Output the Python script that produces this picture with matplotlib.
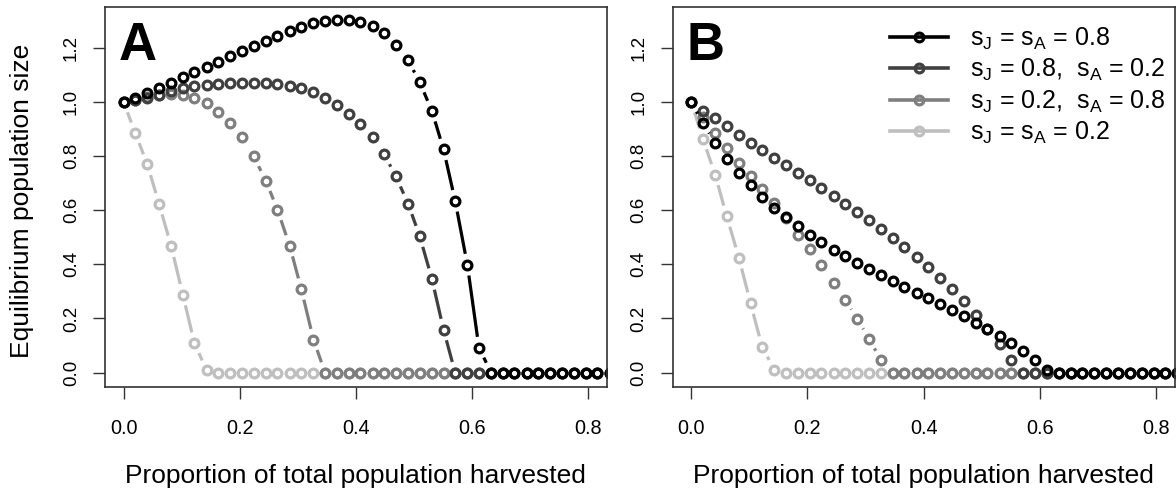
import numpy as np
import matplotlib
matplotlib.use("Agg")
import matplotlib.pyplot as plt
from matplotlib.lines import Line2D
from matplotlib.collections import LineCollection

plt.rcParams['font.family'] = ['Liberation Sans', 'DejaVu Sans']
plt.rcParams['mathtext.fontset'] = 'custom'
plt.rcParams['mathtext.rm'] = 'Liberation Sans'
plt.rcParams['mathtext.it'] = 'Liberation Sans'

# ---------------- data ----------------
harvest = [0.000, 0.020, 0.041, 0.061, 0.082, 0.102, 0.122, 0.143, 0.163, 0.184,
           0.204, 0.224, 0.245, 0.265, 0.286, 0.306, 0.327, 0.347, 0.367, 0.388,
           0.408, 0.429, 0.449, 0.469, 0.490, 0.510, 0.531, 0.551, 0.571, 0.592,
           0.612, 0.633, 0.653, 0.673, 0.694, 0.714, 0.735, 0.755, 0.776, 0.796,
           0.816, 0.837]

# Panel A
A_sJ08_sA08 = [1.000, 1.013, 1.033, 1.051, 1.070, 1.091, 1.111, 1.129, 1.149, 1.169,
               1.189, 1.208, 1.227, 1.245, 1.262, 1.277, 1.290, 1.299, 1.304, 1.304,
               1.297, 1.282, 1.255, 1.212, 1.154, 1.073, 0.967, 0.825, 0.635, 0.399,
               0.092] + [0.0] * 11
A_sJ08_sA02 = [1.000, 1.008, 1.015, 1.027, 1.042, 1.052, 1.058, 1.064, 1.068, 1.070,
               1.071, 1.071, 1.070, 1.067, 1.060, 1.050, 1.035, 1.015, 0.990, 0.957,
               0.919, 0.870, 0.806, 0.725, 0.624, 0.504, 0.346, 0.159] + [0.0] * 14
A_sJ02_sA08 = [1.000, 1.008, 1.017, 1.024, 1.028, 1.025, 1.015, 0.995, 0.964, 0.922,
               0.870, 0.799, 0.709, 0.602, 0.469, 0.309, 0.122] + [0.0] * 25
A_sJ02_sA02 = [1.000, 0.886, 0.769, 0.624, 0.467, 0.288, 0.109, 0.008] + [0.0] * 34

# Panel B
B_sJ08_sA08 = [1.000, 0.921, 0.849, 0.788, 0.739, 0.692, 0.650, 0.608, 0.574, 0.541,
               0.510, 0.481, 0.454, 0.430, 0.406, 0.383, 0.360, 0.338, 0.317, 0.296,
               0.276, 0.255, 0.232, 0.209, 0.185, 0.161, 0.137, 0.110, 0.081, 0.046,
               0.011] + [0.0] * 11
B_sJ08_sA02 = [1.000, 0.967, 0.941, 0.910, 0.879, 0.849, 0.821, 0.793, 0.766, 0.739,
               0.710, 0.681, 0.652, 0.622, 0.594, 0.563, 0.531, 0.498, 0.463, 0.426,
               0.389, 0.350, 0.309, 0.263, 0.214, 0.160, 0.107, 0.045] + [0.0] * 14
B_sJ02_sA08 = [1.000, 0.943, 0.886, 0.830, 0.775, 0.727, 0.677, 0.627, 0.571, 0.510,
               0.457, 0.399, 0.331, 0.270, 0.199, 0.125, 0.045] + [0.0] * 25
B_sJ02_sA02 = [1.000, 0.864, 0.732, 0.578, 0.424, 0.257, 0.095, 0.011] + [0.0] * 34

series_labels = ["s$_\\mathregular{J}$ = s$_\\mathregular{A}$ = 0.8",
                 "s$_\\mathregular{J}$ = 0.8,  s$_\\mathregular{A}$ = 0.2",
                 "s$_\\mathregular{J}$ = 0.2,  s$_\\mathregular{A}$ = 0.8",
                 "s$_\\mathregular{J}$ = s$_\\mathregular{A}$ = 0.2"]
series_colors = ["#000000", "#404040", "#7f7f7f", "#bfbfbf"]

x_ticks = [0.0, 0.2, 0.4, 0.6, 0.8]
x_ticklabels = ["0.0", "0.2", "0.4", "0.6", "0.8"]
y_ticks = [0.0, 0.2, 0.4, 0.6, 0.8, 1.0, 1.2]
y_ticklabels = ["0.0", "0.2", "0.4", "0.6", "0.8", "1.0", "1.2"]

# ---------------- style ----------------
W, H = 1176, 490
fig = plt.figure(figsize=(W / 100, H / 100), dpi=100)

def frac_box(l, r, t, b):
    return [l / W, 1 - b / H, (r - l) / W, (b - t) / H]

axA = fig.add_axes(frac_box(105, 606.7, 6.7, 386.7))
axB = fig.add_axes(frac_box(672.7, 1174.5, 6.7, 386.7))

LW = 2.3
MS = 6.3
MEW = 2.3
GAP = 11.0  # px gap around points (R type="b")
AXCOL = "#333333"


def draw_type_b(ax, x, y, color):
    x = np.asarray(x, float)
    y = np.asarray(y, float)
    pts = ax.transData.transform(np.column_stack([x, y]))
    inv = ax.transData.inverted()
    segs = []
    for p, q in zip(pts[:-1], pts[1:]):
        d = q - p
        L = np.hypot(d[0], d[1])
        if L > 2 * GAP + 0.5:
            u = d / L
            segs.append(inv.transform(np.array([p + u * GAP, q - u * GAP])))
    ax.add_collection(LineCollection(segs, colors=color, linewidths=LW,
                                     capstyle='butt'))
    ax.plot(x, y, linestyle='none', marker='o', mfc='none', mec=color,
            ms=MS, mew=MEW)


def setup(ax):
    ax.set_xlim(-0.032, 0.832)
    ax.set_ylim(-0.052, 1.352)
    ax.set_xticks(x_ticks)
    ax.set_xticklabels(x_ticklabels)
    ax.set_yticks(y_ticks)
    ax.set_yticklabels(y_ticklabels, rotation=90, va='center')
    ax.tick_params(axis='both', direction='out', length=8.6, width=1.0,
                   color=AXCOL, labelcolor='black')
    ax.tick_params(axis='x', pad=14.5, labelsize=14.3)
    ax.tick_params(axis='y', pad=9.4, labelsize=13.5)
    for s in ax.spines.values():
        s.set_color(AXCOL)
        s.set_linewidth(1.2)


panels = [
    (axA, [A_sJ08_sA08, A_sJ08_sA02, A_sJ02_sA08, A_sJ02_sA02], "A"),
    (axB, [B_sJ08_sA08, B_sJ08_sA02, B_sJ02_sA08, B_sJ02_sA02], "B"),
]

for ax, data, letter in panels:
    setup(ax)
    # draw lightest first so that darker series lie on top
    for vals, col in reversed(list(zip(data, series_colors))):
        draw_type_b(ax, harvest, vals, col)
    ax.text(0.027, 0.86, letter, transform=ax.transAxes, fontsize=38,
            fontweight='bold', ha='left', va='baseline')
    fig.text((ax.get_position().x0 + ax.get_position().x1) / 2, 1 - 483 / H,
             "Proportion of total population harvested", fontsize=19,
             ha='center', va='baseline')

fig.text(22 / W, 1 - 201 / H, "Equilibrium population size", fontsize=19,
         rotation=90, ha='center', va='center')

handles = [Line2D([0], [0], color=c, lw=2.6, marker='o', mfc='none', mec=c,
                  ms=MS, mew=MEW) for c in series_colors]
axB.legend(handles, series_labels, loc='upper left',
           bbox_to_anchor=(0.4335, 0.95), frameon=False, fontsize=18,
           handlelength=2.32, handletextpad=0.88, labelspacing=0.21,
           borderpad=0, borderaxespad=0)

fig.savefig("out.png", dpi=100)
